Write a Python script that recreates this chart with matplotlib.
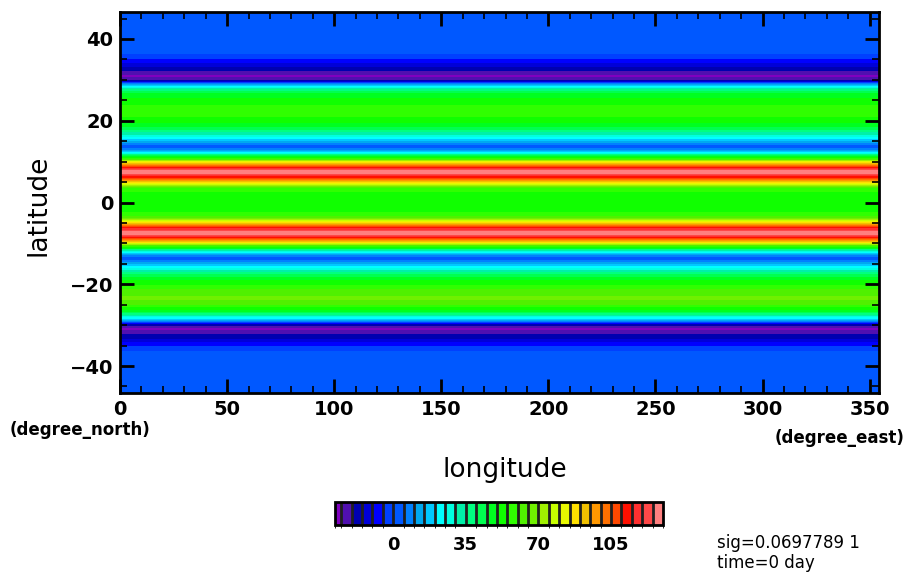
import numpy as np
import matplotlib
matplotlib.use("Agg")
import matplotlib.pyplot as plt
from matplotlib.colors import ListedColormap, BoundaryNorm

# zonal-mean profile (field is uniform in longitude)
lat = [-47, -36.5, -35.5, -34.5, -33, -31.8, -30.8, -29.8, -29.2, -28.4, -27.5,
       -26.5, -25, -23.5, -22, -20.5, -19, -17.5, -16, -15, -14.2, -13.6, -13,
       -12.2, -11.4, -10.6, -10, -9.2, -8.4, -7.7, -7, -6.3, -5.5, -4.6, -3.6,
       -2, 0, 2, 3.6, 4.6, 5.5, 6.3, 7, 7.7, 8.4, 9.2, 10, 10.6, 11.4, 12.2,
       13, 13.6, 14.2, 15, 16, 17.5, 19, 20.5, 22, 23.5, 25, 26.5, 27.5, 28.4,
       29.2, 29.8, 30.8, 31.8, 33, 34.5, 35.5, 36.5, 47]
val = [1, 1, -3, -8, -17, -22, -27, -15, 5, 20, 35,
       48, 60, 66, 64, 57, 50, 40, 25, 15, 6, 3, 8,
       22, 42, 62, 80, 100, 118, 128, 126, 115, 98, 82, 62,
       53, 52, 53, 60, 80, 98, 114, 125, 128, 118, 100, 82, 62, 45, 22,
       8, 3, 6, 15, 25, 38, 48, 54, 57, 56, 52, 47, 38, 22,
       5, -18, -27, -22, -16, -8, -3, 1, 1]
lon = [0, 354.375]

levels = [-28] + list(range(-25, 135, 5))
colors = ["#8000c0", "#5010b0", "#0000b0", "#0000d8", "#0000ff", "#0040ff",
          "#0058ff", "#0080ff", "#00a8f0", "#00c8ff", "#00ffff", "#00ffe0",
          "#00f0a8", "#00ff80", "#00ff50", "#00ff20",
          "#10ff00", "#30ff00", "#50f000", "#70f000", "#a0f000", "#c8ff00",
          "#e8f800", "#ffe000", "#f0c000", "#ff9800", "#ff7000", "#ff4800",
          "#ff1000", "#ff3030", "#ff4848", "#ff8080"]

cmap = ListedColormap(colors)
norm = BoundaryNorm(levels, cmap.N)

field = np.tile(np.array(val)[:, None], (1, len(lon)))

fig = plt.figure(figsize=(9.07, 5.74), dpi=100)
ax = fig.add_axes([120/907, 1-393/574, 759/907, 381/574])
cf = ax.contourf(lon, lat, field, levels=levels, cmap=cmap, norm=norm)
ax.set_xlim(0, 354.375)
ax.set_ylim(-46.6, 46.6)

ax.set_xticks([0, 50, 100, 150, 200, 250, 300, 350])
ax.set_xticks(np.arange(0, 355, 10), minor=True)
ax.set_yticks([-40, -20, 0, 20, 40])
ax.set_yticks(np.arange(-45, 50, 5), minor=True)
ax.set_yticklabels(["\u221240", "\u221220", "0", "20", "40"])
ax.tick_params(which="both", direction="in", top=True, right=True)
ax.tick_params(which="major", length=10, width=2, labelsize=14, pad=5)
ax.tick_params(which="minor", length=5, width=1.2)
for lab in ax.get_xticklabels() + ax.get_yticklabels():
    lab.set_fontweight("bold")
for sp in ax.spines.values():
    sp.set_linewidth(2)

fig.text(38/907, 1-205/574, "latitude", rotation=90, fontsize=19,
         ha="center", va="center")
fig.text(505/907, 1-470/574, "longitude", fontsize=19, ha="center", va="center")
fig.text(10/907, 1-430/574, "(degree_north)", fontsize=12, fontweight="bold",
         ha="left", va="center")
fig.text(905/907, 1-438/574, "(degree_east)", fontsize=12, fontweight="bold",
         ha="right", va="center")
fig.text(717/907, 1-543/574, "sig=0.0697789 1", fontsize=12, ha="left", va="center")
fig.text(717/907, 1-563/574, "time=0 day", fontsize=12, ha="left", va="center")

cax = fig.add_axes([335/907, 1-525/574, 328/907, 23/574])
cb = fig.colorbar(cf, cax=cax, orientation="horizontal", drawedges=True,
                  spacing="proportional")
cb.set_ticks([0, 35, 70, 105])
cb.ax.tick_params(length=0, labelsize=13, pad=8)
for lab in cb.ax.get_xticklabels():
    lab.set_fontweight("bold")
cb.outline.set_linewidth(2)
cb.dividers.set_linewidth(2)
cb.dividers.set_color("#202020")

fig.savefig("out.png", dpi=100)
